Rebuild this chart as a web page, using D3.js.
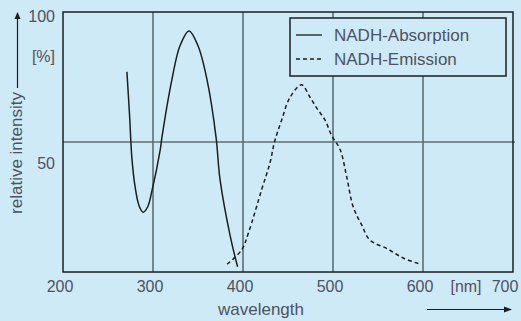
<!DOCTYPE html>
<html><head><meta charset="utf-8">
<script src="https://cdn.jsdelivr.net/npm/d3@7"></script>
<style>
html,body{margin:0;padding:0;background:#cdeaf6;}
svg{display:block;}
text{font-family:"Liberation Sans",Arial,sans-serif;}
</style></head>
<body>
<svg id="c" width="521" height="321"></svg>
<script>
// ---- data ----
const absorptionNm  = [271, 274, 276.5, 280, 284.5, 289, 294, 299, 308, 310, 321, 330, 340, 350, 360, 370, 374.5, 386, 394];
const absorptionVal = [77, 60, 44, 33, 25.5, 23, 25, 31.5, 47, 52, 74, 87, 92.7, 87, 74, 52, 35.5, 13.5, 2];
const emissionNm  = [382.5, 398.5, 406, 421, 430, 435, 443, 452, 465, 474, 482, 491, 498.5, 508, 515, 522.5, 532, 541, 560, 578, 597];
const emissionVal = [3, 8.5, 15, 32, 42, 50, 58.5, 67, 72, 67.5, 63, 58.5, 52.5, 47, 37, 25, 18, 12.3, 9, 5.4, 3];
const xTicks = [200, 300, 400, 500, 600, 700];
const xGrid = [300, 400, 500, 600];
const yTicks = [100, 50];
const yGrid = [50];
const seriesNames = ["NADH-Absorption", "NADH-Emission"];

// ---- layout ----
const svg = d3.select("#c");
const x = d3.scaleLinear().domain([200, 700]).range([63, 513]);
const y = d3.scaleLinear().domain([0, 100]).range([272, 12]);
const ink = "#1e1e1e", gridC = "#5f6e74", txt = "#4d5262";

svg.append("rect").attr("width",521).attr("height",321).attr("fill","#cdeaf6");

// grid
svg.selectAll(".vg").data(xGrid).enter().append("line")
  .attr("x1",d=>x(d)).attr("x2",d=>x(d)).attr("y1",y(100)).attr("y2",y(0))
  .attr("stroke",gridC).attr("stroke-width",1.6);
svg.selectAll(".hg").data(yGrid).enter().append("line")
  .attr("x1",x(200)).attr("x2",x(700)+2).attr("y1",d=>y(d)).attr("y2",d=>y(d))
  .attr("stroke",gridC).attr("stroke-width",1.6);

// frame
svg.append("rect").attr("x",x(200)).attr("y",y(100)).attr("width",x(700)-x(200)).attr("height",y(0)-y(100))
  .attr("fill","none").attr("stroke",ink).attr("stroke-width",1.5);

// curves
const absData = absorptionNm.map((d,i)=>[d, absorptionVal[i]]);
const emData = emissionNm.map((d,i)=>[d, emissionVal[i]]);
const line = d3.line().x(d=>x(d[0])).y(d=>y(d[1])).curve(d3.curveCatmullRom.alpha(0.5));
svg.append("path").attr("d",line(absData)).attr("fill","none").attr("stroke",ink).attr("stroke-width",1.5);
svg.append("path").attr("d",line(emData)).attr("fill","none").attr("stroke",ink).attr("stroke-width",1.5)
  .attr("stroke-dasharray","4,3");

// legend
const lg = svg.append("g");
lg.append("rect").attr("x",290).attr("y",18).attr("width",216).attr("height",58)
  .attr("fill","#cdeaf6").attr("stroke",ink).attr("stroke-width",1.5);
seriesNames.forEach((n,i)=>{
  const yy = 35 + i*24;
  lg.append("line").attr("x1",296).attr("x2",322).attr("y1",yy).attr("y2",yy)
    .attr("stroke",ink).attr("stroke-width",1.3).attr("stroke-dasharray", i ? "4,3" : null);
  lg.append("text").attr("x",334).attr("y",yy+6).attr("font-size",17).attr("fill",txt).text(n);
});

// x tick labels
svg.selectAll(".xt").data(xTicks).enter().append("text")
  .attr("x",d=>x(d)-(d===700?8:3)).attr("y",292).attr("text-anchor","middle")
  .attr("font-size",16).attr("fill",txt).text(d=>d);
svg.append("text").attr("x",x(650)-2).attr("y",292).attr("text-anchor","middle")
  .attr("font-size",16).attr("fill","#5a5058").text("[nm]");

// y tick labels
svg.selectAll(".yt").data(yTicks).enter().append("text")
  .attr("x",55).attr("y",d=>y(d)+(d===100?10:27)).attr("text-anchor","end")
  .attr("font-size",16).attr("fill",txt).text(d=>d);
svg.append("text").attr("x",55).attr("y",62).attr("text-anchor","end")
  .attr("font-size",16).attr("fill","#5a5058").text("[%]");

// axis titles
svg.append("text").attr("transform","translate(22,153) rotate(-90)").attr("text-anchor","middle")
  .attr("font-size",17).attr("fill",txt).text("relative intensity");
svg.append("text").attr("x",261).attr("y",315).attr("text-anchor","middle")
  .attr("font-size",17).attr("fill",txt).text("wavelength");

// arrows
svg.append("line").attr("x1",17.5).attr("x2",17.5).attr("y1",88).attr("y2",18).attr("stroke",ink).attr("stroke-width",1.2);
svg.append("path").attr("d","M17.5,12 L14.5,19 L20.5,19 Z").attr("fill",ink);
svg.append("line").attr("x1",427).attr("x2",506).attr("y1",309.5).attr("y2",309.5).attr("stroke",ink).attr("stroke-width",1.2);
svg.append("path").attr("d","M512,309.5 L504,306.5 L504,312.5 Z").attr("fill",ink);
</script>
</body></html>
